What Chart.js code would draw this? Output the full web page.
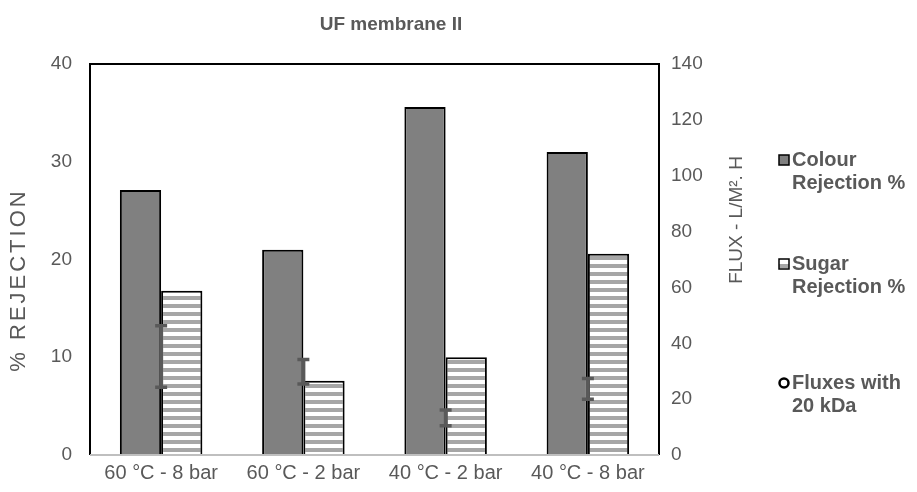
<!DOCTYPE html>
<html>
<head>
<meta charset="utf-8">
<script src="https://cdn.jsdelivr.net/npm/chart.js@4"></script>
<style>
  html, body { margin: 0; padding: 0; background: #fff; }
  canvas { display: block; }
</style>
</head>
<body>
<canvas id="chart" width="917" height="492"></canvas>
<script>
// data
const categories = ["60 °C - 8 bar", "60 °C - 2 bar", "40 °C - 2 bar", "40 °C - 8 bar"];
const colourRejection = [27.1, 21.0, 35.6, 31.0];
const sugarRejection = [16.8, 7.6, 10.0, 20.6];
const fluxMean = [35.3, 29.8, 13.3, 23.7];
const fluxError = [11.0, 4.4, 2.8, 3.7];
const seriesNames = [["Colour", "Rejection %"], ["Sugar", "Rejection %"], ["Fluxes with", "20 kDa"]];

const textGrey = "#595959";
const fontFamily = "'Liberation Sans', Arial, sans-serif";

// horizontal stripes for the sugar bars
function stripes() {
    const c = document.createElement("canvas");
    c.width = 8;
    c.height = 8;
    const g = c.getContext("2d");
    g.fillStyle = "#ffffff";
    g.fillRect(0, 0, 8, 8);
    g.fillStyle = "#a6a6a6";
    g.fillRect(0, 0, 8, 4);
    return g.createPattern(c, "repeat");
}
const stripeFill = stripes();

const extras = {
    id: "extras",
    afterDatasetsDraw(chart) {
        const ctx = chart.ctx;
        const a = chart.chartArea;
        const x = chart.scales.x;
        const y1 = chart.scales.y1;
        ctx.save();

        // error bars for the flux series
        ctx.strokeStyle = "#595959";
        fluxMean.forEach((m, i) => {
            const px = x.getPixelForValue(i);
            const top = y1.getPixelForValue(m + fluxError[i]);
            const bot = y1.getPixelForValue(m - fluxError[i]);
            ctx.lineWidth = 4;
            ctx.beginPath();
            ctx.moveTo(px, top); ctx.lineTo(px, bot);
            ctx.stroke();
            ctx.lineWidth = 3.5;
            ctx.beginPath();
            ctx.moveTo(px - 6, top); ctx.lineTo(px + 6, top);
            ctx.moveTo(px - 6, bot); ctx.lineTo(px + 6, bot);
            ctx.stroke();
        });

        // plot frame: black left/top/right, grey bottom
        ctx.lineWidth = 2;
        ctx.strokeStyle = "#000000";
        ctx.beginPath();
        ctx.moveTo(a.left, a.bottom);
        ctx.lineTo(a.left, a.top);
        ctx.lineTo(a.right, a.top);
        ctx.lineTo(a.right, a.bottom);
        ctx.stroke();
        ctx.strokeStyle = "#bfbfbf";
        ctx.beginPath();
        ctx.moveTo(a.left, a.bottom);
        ctx.lineTo(a.right, a.bottom);
        ctx.stroke();

        // chart title
        ctx.fillStyle = textGrey;
        ctx.textAlign = "center";
        ctx.textBaseline = "middle";
        ctx.font = "bold 19px " + fontFamily;
        ctx.fillText("UF membrane II", 391, 25);

        // axis titles
        ctx.save();
        ctx.font = "22px " + fontFamily;
        ctx.letterSpacing = "3px";
        ctx.translate(19, 280);
        ctx.rotate(-Math.PI / 2);
        ctx.fillText("% REJECTION", 0, 0);
        ctx.restore();
        ctx.save();
        ctx.font = "19px " + fontFamily;
        ctx.translate(737, 220);
        ctx.rotate(-Math.PI / 2);
        ctx.fillText("FLUX - L/M². H", 0, 0);
        ctx.restore();

        // legend
        const rows = [160, 264, 383];
        ctx.font = "bold 20px " + fontFamily;
        ctx.textAlign = "left";
        rows.forEach((ry, i) => {
            ctx.fillStyle = textGrey;
            ctx.fillText(seriesNames[i][0], 792, ry);
            ctx.fillText(seriesNames[i][1], 792, ry + 23);
            ctx.lineWidth = 1.5;
            ctx.strokeStyle = "#000000";
            if (i === 2) {
                ctx.lineWidth = 2.5;
                ctx.fillStyle = "#ffffff";
                ctx.beginPath();
                ctx.arc(784, ry, 4.5, 0, Math.PI * 2);
                ctx.fill();
                ctx.stroke();
            } else {
                ctx.fillStyle = i === 0 ? "#808080" : "#ffffff";
                ctx.fillRect(779, ry - 5, 10, 10);
                if (i === 1) {
                    ctx.fillStyle = "#a6a6a6";
                    ctx.fillRect(779, ry, 10, 4);
                }
                ctx.strokeRect(779, ry - 5, 10, 10);
            }
        });
        ctx.restore();
    }
};

new Chart(document.getElementById("chart"), {
    data: {
        labels: categories,
        datasets: [
            {
                type: "bar",
                label: "Colour Rejection %",
                data: colourRejection,
                backgroundColor: "#808080",
                borderColor: "#000000",
                borderWidth: 2,
                yAxisID: "y",
                categoryPercentage: 0.58,
                barPercentage: 1.0
            },
            {
                type: "bar",
                label: "Sugar Rejection %",
                data: sugarRejection,
                backgroundColor: stripeFill,
                borderColor: "#000000",
                borderWidth: 2,
                yAxisID: "y",
                categoryPercentage: 0.58,
                barPercentage: 1.0
            },
            {
                type: "line",
                label: "Fluxes with 20 kDa",
                data: fluxMean,
                showLine: false,
                pointRadius: 0,
                yAxisID: "y1"
            }
        ]
    },
    options: {
        responsive: false,
        animation: false,
        devicePixelRatio: 1,
        layout: { padding: { left: 48, right: 213, top: 64, bottom: 0 } },
        plugins: {
            legend: { display: false },
            tooltip: { enabled: false },
            title: { display: false }
        },
        scales: {
            x: {
                grid: { display: false, drawTicks: false },
                border: { display: false },
                ticks: { color: textGrey, font: { family: fontFamily, size: 20 }, padding: 6, maxRotation: 0 },
                afterFit: s => { s.height = 37; }
            },
            y: {
                position: "left",
                min: 0,
                max: 40,
                grid: { display: false, drawTicks: false },
                border: { display: false },
                ticks: { stepSize: 10, color: textGrey, font: { family: fontFamily, size: 19 }, padding: 18 },
                afterFit: s => { s.width = 42; }
            },
            y1: {
                position: "right",
                min: 0,
                max: 140,
                grid: { display: false, drawTicks: false },
                border: { display: false },
                ticks: { stepSize: 20, color: textGrey, font: { family: fontFamily, size: 19 }, padding: 12 },
                afterFit: s => { s.width = 45; }
            }
        }
    },
    plugins: [extras]
});
</script>
</body>
</html>
